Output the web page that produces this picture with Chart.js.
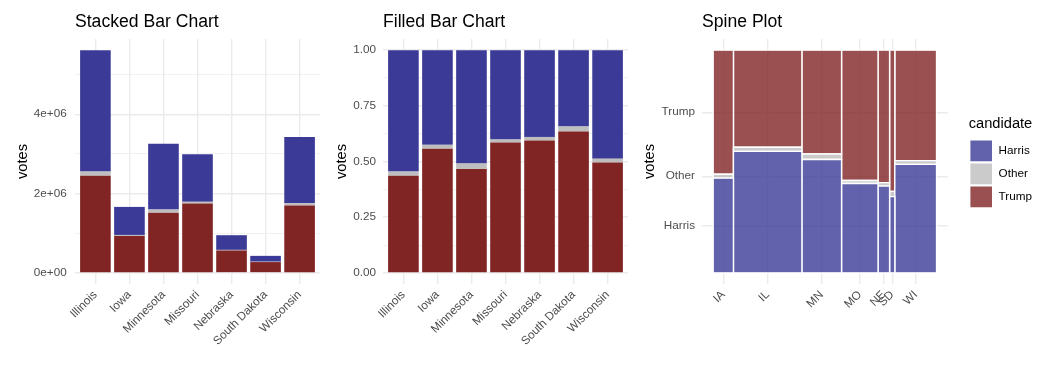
<!DOCTYPE html>
<html>
<head>
<meta charset="utf-8">
<script src="https://cdn.jsdelivr.net/npm/chart.js@4.4.1/dist/chart.umd.min.js"></script>
<style>
    html, body { margin: 0; padding: 0; background: #fff; }
    body { width: 1056px; height: 384px; position: relative; overflow: hidden; }
    .panel { position: absolute; top: 0; height: 384px; }
</style>
</head>
<body>
<div class="panel" style="left:0;width:336px"><canvas id="stackedChart"></canvas></div>
<div class="panel" style="left:330px;width:316px"><canvas id="filledChart"></canvas></div>
<div class="panel" style="left:632px;width:424px"><canvas id="spineChart"></canvas></div>
<script>
const states = ['Illinois', 'Iowa', 'Minnesota', 'Missouri', 'Nebraska', 'South Dakota', 'Wisconsin'];
const stateAbbr = ['IL', 'IA', 'MN', 'MO', 'NE', 'SD', 'WI'];
const candidates = ['Harris', 'Other', 'Trump'];
const harrisVotes = [3062863, 707278, 1656979, 1200599, 369995, 146859, 1668229];
const otherVotes = [105000, 29000, 80000, 40000, 15000, 10000, 58000];
const trumpVotes = [2449079, 927019, 1519032, 1751986, 564816, 272081, 1697626];

const voteTicks = [0, 1000000, 2000000, 3000000, 4000000, 5000000];
const voteTickLabels = ['0e+00', '', '2e+06', '', '4e+06', ''];
const shareTicks = [0, 0.125, 0.25, 0.375, 0.5, 0.625, 0.75, 0.875, 1];
const shareTickLabels = ['0.00', '', '0.25', '', '0.50', '', '0.75', '', '1.00'];

const barColors = { Harris: '#3B3A96', Other: '#BEBEBE', Trump: '#812424' };
const spineColors = { Harris: 'rgba(59,58,150,0.8)', Other: 'rgba(190,190,190,0.8)', Trump: 'rgba(129,36,36,0.8)' };

Chart.defaults.font.family = '"Liberation Sans", Arial, sans-serif';
Chart.defaults.animation = false;

const votesByCandidate = { Harris: harrisVotes, Other: otherVotes, Trump: trumpVotes };
const totals = states.map((s, i) => harrisVotes[i] + otherVotes[i] + trumpVotes[i]);
const maxTotal = Math.max(...totals);
const grandTotal = totals.reduce((a, b) => a + b, 0);

const tickText = { color: '#4D4D4D', font: { size: 11.73 } };
const gridColor = '#EBEBEB';

function titleOpts(text) {
    return {
        display: true, text: text, align: 'start', fullSize: false, color: '#000',
        font: { size: 17.6, weight: 'normal' }, padding: { top: 11.3, bottom: 6.6 }
    };
}

function stateAxis() {
    return {
        type: 'linear', stacked: true, min: 0.4, max: 7.6, offset: false,
        afterBuildTicks: s => { s.ticks = states.map((n, i) => ({ value: i + 1 })); },
        afterFit: s => { s.height = 100; },
        border: { display: false },
        grid: { color: gridColor, lineWidth: 1.4, drawTicks: false, offset: false },
        ticks: Object.assign({ autoSkip: false, minRotation: 45, maxRotation: 45, padding: 4,
            callback: (v, i) => states[i] }, tickText)
    };
}

function barDatasets(values) {
    // ggplot stacks the first level on top, so Trump goes first (bottom)
    return ['Trump', 'Other', 'Harris'].map(c => ({
        label: c,
        data: values[c].map((v, i) => ({ x: i + 1, y: v })),
        backgroundColor: barColors[c],
        borderWidth: 0,
        barPercentage: 0.9,
        categoryPercentage: 1.0
    }));
}

// stacked counts
new Chart(document.getElementById('stackedChart'), {
    type: 'bar',
    data: { datasets: barDatasets(votesByCandidate) },
    options: {
        responsive: true,
        maintainAspectRatio: false,
        layout: { padding: { left: 0, right: 16, top: 0, bottom: 0 } },
        plugins: { legend: { display: false }, tooltip: { enabled: false }, title: titleOpts('Stacked Bar Chart') },
        scales: {
            x: stateAxis(),
            y: {
                stacked: true, min: -0.05 * maxTotal, max: 1.05 * maxTotal,
                afterBuildTicks: s => { s.ticks = voteTicks.map(v => ({ value: v })); },
                afterFit: s => { s.width = 75; },
                border: { display: false },
                grid: { color: gridColor, lineWidth: c => voteTickLabels[c.index] ? 1.4 : 0.7, drawTicks: false },
                ticks: Object.assign({ padding: 8.3, callback: (v, i) => voteTickLabels[i] }, tickText),
                title: { display: true, text: 'votes', color: '#000', font: { size: 14.67 }, padding: { top: 13.7, bottom: 0 } }
            }
        }
    }
});

// filled shares
const sharesByCandidate = {};
candidates.forEach(c => { sharesByCandidate[c] = votesByCandidate[c].map((v, i) => v / totals[i]); });

new Chart(document.getElementById('filledChart'), {
    type: 'bar',
    data: { datasets: barDatasets(sharesByCandidate) },
    options: {
        responsive: true,
        maintainAspectRatio: false,
        layout: { padding: { left: 0, right: 18, top: 0, bottom: 0 } },
        plugins: { legend: { display: false }, tooltip: { enabled: false }, title: titleOpts('Filled Bar Chart') },
        scales: {
            x: stateAxis(),
            y: {
                stacked: true, min: -0.05, max: 1.05,
                afterBuildTicks: s => { s.ticks = shareTicks.map(v => ({ value: v })); },
                afterFit: s => { s.width = 53; },
                border: { display: false },
                grid: { color: gridColor, lineWidth: c => shareTickLabels[c.index] ? 1.4 : 0.7, drawTicks: false },
                ticks: Object.assign({ padding: 7, callback: (v, i) => shareTickLabels[i] }, tickText),
                title: { display: true, text: 'votes', color: '#000', font: { size: 14.67 }, padding: { top: 3.2, bottom: 0 } }
            }
        }
    }
});

// spine plot: widths by state total, heights by candidate share
const spineOrder = states.map((s, i) => i).sort((a, b) => stateAbbr[a].localeCompare(stateAbbr[b]));
const spineCenters = [];
const spineLabels = [];
const spineRects = { Harris: [], Other: [], Trump: [] };
let cum = 0;
spineOrder.forEach(i => {
    const x0 = cum / grandTotal;
    cum += totals[i];
    const x1 = cum / grandTotal;
    spineCenters.push((x0 + x1) / 2);
    spineLabels.push(stateAbbr[i]);
    let y0 = 0;
    candidates.forEach(c => {
        const y1 = y0 + votesByCandidate[c][i] / totals[i];
        spineRects[c].push([{ x: x0, y: y0 }, { x: x0, y: y1 }, { x: x1, y: y1 }, { x: x1, y: y0 }, { x: x0, y: y0 }]);
        y0 = y1;
    });
});
const first = spineOrder[0];
const hShare = harrisVotes[first] / totals[first];
const oShare = otherVotes[first] / totals[first];
const spineYTicks = [hShare / 2, hShare + oShare / 2, (hShare + oShare + 1) / 2];

const spineDatasets = [];
candidates.forEach(c => {
    spineRects[c].forEach(rect => {
        spineDatasets.push({
            label: c, data: rect, showLine: true, fill: 'shape', tension: 0,
            backgroundColor: spineColors[c], borderColor: '#fff', borderWidth: 1.4,
            pointRadius: 0, pointHoverRadius: 0
        });
    });
});

const legendShift = {
    id: 'legendShift',
    afterLayout(chart) {
        if (chart.legend) { chart.legend.left += 21; chart.legend.right += 21; }
    }
};

new Chart(document.getElementById('spineChart'), {
    type: 'scatter',
    data: { datasets: spineDatasets },
    plugins: [legendShift],
    options: {
        responsive: true,
        maintainAspectRatio: false,
        layout: { padding: { left: 0, right: 35, top: 0, bottom: 0 } },
        plugins: {
            tooltip: { enabled: false },
            title: titleOpts('Spine Plot'),
            legend: {
                position: 'right', align: 'center', fullSize: false,
                title: { display: true, text: 'candidate', position: 'start', color: '#000', font: { size: 14.67 }, padding: { top: 3, bottom: 4.2 } },
                labels: {
                    boxWidth: 23, boxHeight: 22, padding: 1, color: '#000', font: { size: 11.73 },
                    filter: item => item.datasetIndex % states.length === 0
                }
            }
        },
        scales: {
            x: {
                min: -0.05, max: 1.05,
                afterBuildTicks: s => { s.ticks = spineCenters.map(v => ({ value: v })); },
                afterFit: s => { s.height = 100; },
                border: { display: false },
                grid: { color: gridColor, lineWidth: 1.4, drawTicks: false },
                ticks: Object.assign({ autoSkip: false, minRotation: 45, maxRotation: 45, padding: 4,
                    callback: (v, i) => spineLabels[i] }, tickText)
            },
            y: {
                min: -0.05, max: 1.05,
                afterBuildTicks: s => { s.ticks = spineYTicks.map(v => ({ value: v })); },
                afterFit: s => { s.width = 70; },
                border: { display: false },
                grid: { color: gridColor, lineWidth: 1.4, drawTicks: false },
                ticks: Object.assign({ padding: 7, callback: (v, i) => candidates[i] }, tickText),
                title: { display: true, text: 'votes', color: '#000', font: { size: 14.67 }, padding: { top: 9.2, bottom: 0 } }
            }
        }
    }
});
</script>
</body>
</html>
